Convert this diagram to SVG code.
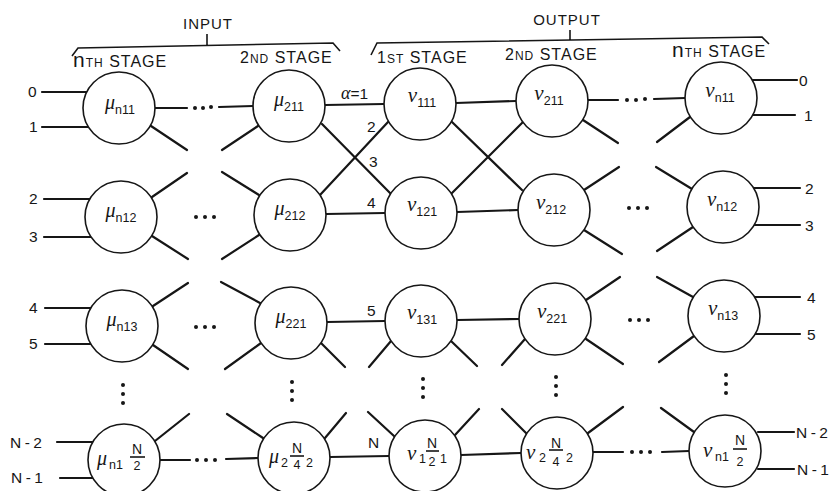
<svg xmlns="http://www.w3.org/2000/svg" width="837" height="491" viewBox="0 0 837 491">
<style>
.c{fill:#fff;stroke:#161616;stroke-width:1.6}
.l{stroke:#161616;stroke-width:2.2;fill:none;stroke-linecap:round}
.b{stroke:#161616;stroke-width:1.6;fill:none}
.d{fill:#161616}
text{font-family:"Liberation Sans","DejaVu Sans",sans-serif;fill:#161616}
.g{font-family:"Liberation Serif","DejaVu Serif",serif;font-style:italic;font-size:20px}
.v{font-family:"Liberation Serif","DejaVu Serif",serif;font-style:italic;font-size:21px}
.s{font-size:12.5px}
.p{font-size:15.5px}
.nn{font-size:15.5px;letter-spacing:3.5px}
.h{font-size:16px;letter-spacing:1px}
.sc{font-size:12px}
.bn{font-size:21px}
.fn{font-size:14px}
.fd{font-size:12.5px}
</style>

<g id="brackets">
<text x="208" y="29" text-anchor="middle" class="h" style="font-size:15px">INPUT</text>
<path class="b" d="M72,56 L78,48 L333,43 L340,51 M207,34 V45"/>
<text x="567" y="25" text-anchor="middle" class="h" style="font-size:15px">OUTPUT</text>
<path class="b" d="M371,55 L377,43 L762,37 L769,44 M570,30 V40"/>
<text x="73" y="67" class="h"><tspan class="bn">n</tspan><tspan class="sc">TH</tspan> STAGE</text>
<text x="240" y="63" class="h">2<tspan class="sc">ND</tspan> STAGE</text>
<text x="377" y="63" class="h">1<tspan class="sc">ST</tspan> STAGE</text>
<text x="505" y="60" class="h">2<tspan class="sc">ND</tspan> STAGE</text>
<text x="672" y="57" class="h"><tspan class="bn">n</tspan><tspan class="sc">TH</tspan> STAGE</text>
</g>

<g id="connectors">
<!-- inputs -->
<path class="l" d="M42,92 H87 M42,127 H88 M44,199 H90 M44,237 H91 M45,308 H91 M45,344 H91 M57,442 H93 M60,478 H93"/>
<!-- outputs -->
<path class="l" d="M752,80 H797 M753,115 H795 M754,188 H800 M754,225 H800 M755,297 H800 M755,334 H800 M758,432 H794 M758,469 H794"/>
<!-- horizontals -->
<path class="l" d="M155,108 L187,108 M219,107 L253,106 M325,105 L384,104 M456,103 L516,101 M588,100 L618,100 M654,99 L685,98"/>
<path class="l" d="M326,214 L385,213 M457,212 L518,210"/>
<path class="l" d="M327,322 L385,321 M457,320 L519,319"/>
<path class="l" d="M160,460 L190,460 M226,459 L258,458 M330,457 L389,456 M461,455 L521,453 M593,452 L623,452 M662,452 L689,451"/>
<!-- crossings -->
<path class="l" d="M322,124 L390,193 M388,122 L320,195 M452,122 L522,190 M452,193 L523,122"/>
<!-- stubs -->
<path class="l" d="M151,126 L187,150 M258,126 L222,150"/>
<path class="l" d="M152,197 L187,173 M152,236 L188,259 M259,195 L222,172 M259,235 L222,259"/>
<path class="l" d="M153,306 L188,283 M153,345 L188,369 M260,303 L221,282 M261,343 L225,369"/>
<path class="l" d="M321,343 L345,367 M391,341 L369,367 M451,341 L477,366 M525,339 L502,365"/>
<path class="l" d="M586,300 L620,277 M586,339 L623,364"/>
<path class="l" d="M155,441 L189,414 M263,438 L227,414 M325,438 L346,413 M394,436 L368,412 M455,435 L479,409 M526,433 L502,409 M588,433 L623,407 M694,432 L661,408"/>
<path class="l" d="M583,120 L618,143 M690,117 L657,142"/>
<path class="l" d="M584,190 L619,167 M584,230 L622,254 M692,189 L656,167 M693,227 L657,251"/>
<path class="l" d="M693,297 L657,277 M694,336 L659,362"/>
<!-- horizontal ellipses -->
<g class="d">
<circle cx="195" cy="108" r="2"/><circle cx="203" cy="108" r="2"/><circle cx="211" cy="107" r="2"/>
<circle cx="627" cy="100" r="2"/><circle cx="636" cy="100" r="2"/><circle cx="645" cy="99" r="2"/>
<circle cx="196" cy="217" r="2"/><circle cx="205" cy="217" r="2"/><circle cx="214" cy="217" r="2"/>
<circle cx="629" cy="208" r="2"/><circle cx="638" cy="208" r="2"/><circle cx="647" cy="208" r="2"/>
<circle cx="196" cy="327" r="2"/><circle cx="205" cy="327" r="2"/><circle cx="214" cy="327" r="2"/>
<circle cx="630" cy="320" r="2"/><circle cx="639" cy="320" r="2"/><circle cx="648" cy="320" r="2"/>
<circle cx="197" cy="460" r="2"/><circle cx="206" cy="460" r="2"/><circle cx="215" cy="460" r="2"/>
<circle cx="632" cy="452" r="2"/><circle cx="641" cy="452" r="2"/><circle cx="650" cy="452" r="2"/>
<!-- vertical ellipses -->
<circle cx="123" cy="385" r="2"/><circle cx="123" cy="394" r="2"/><circle cx="123" cy="403" r="2"/>
<circle cx="292" cy="382" r="2"/><circle cx="292" cy="391" r="2"/><circle cx="292" cy="400" r="2"/>
<circle cx="423" cy="379" r="2"/><circle cx="423" cy="388" r="2"/><circle cx="423" cy="397" r="2"/>
<circle cx="556" cy="377" r="2"/><circle cx="556" cy="386" r="2"/><circle cx="556" cy="395" r="2"/>
<circle cx="726" cy="375" r="2"/><circle cx="726" cy="384" r="2"/><circle cx="726" cy="393" r="2"/>
</g>
<!-- port labels -->
<text class="p" x="28" y="97">0</text>
<text class="p" x="29" y="132">1</text>
<text class="p" x="29" y="204">2</text>
<text class="p" x="29" y="242">3</text>
<text class="p" x="29" y="313">4</text>
<text class="p" x="29" y="349">5</text>
<text class="nn" x="10" y="448">N-2</text>
<text class="nn" x="11" y="483">N-1</text>
<text class="p" x="799" y="86">0</text>
<text class="p" x="804" y="121">1</text>
<text class="p" x="805" y="194">2</text>
<text class="p" x="805" y="231">3</text>
<text class="p" x="807" y="303">4</text>
<text class="p" x="807" y="340">5</text>
<text class="nn" x="796" y="438">N-2</text>
<text class="nn" x="797" y="475">N-1</text>
<!-- link labels -->
<text class="p" x="341" y="99"><tspan class="g" style="font-size:18px">α</tspan>=1</text>
<text class="p" x="367" y="132">2</text>
<text class="p" x="369" y="167">3</text>
<text class="p" x="367" y="208">4</text>
<text class="p" x="367" y="316">5</text>
<text class="p" x="368" y="448">N</text>
</g>

<g id="mu_n11"><circle class="c" cx="119" cy="108" r="36"/><text x="120" y="109" text-anchor="middle"><tspan class="g">μ</tspan><tspan class="s" dy="5">n11</tspan></text></g>
<g id="mu_n12"><circle class="c" cx="121" cy="217" r="36"/><text x="121" y="217" text-anchor="middle"><tspan class="g">μ</tspan><tspan class="s" dy="5">n12</tspan></text></g>
<g id="mu_n13"><circle class="c" cx="122" cy="326" r="36"/><text x="122" y="326" text-anchor="middle"><tspan class="g">μ</tspan><tspan class="s" dy="5">n13</tspan></text></g>
<g id="mu_n1N2"><circle class="c" cx="124" cy="460" r="36"/>
<text class="g" x="97" y="465">μ</text><text class="s" x="109" y="469">n1</text>
<text class="fn" x="137" y="454" text-anchor="middle">N</text><path class="b" d="M130,457 H145"/><text class="fd" x="137" y="470" text-anchor="middle">2</text></g>

<g id="mu_211"><circle class="c" cx="289" cy="106" r="36"/><text x="289" y="106" text-anchor="middle"><tspan class="g">μ</tspan><tspan class="s" dy="5">211</tspan></text></g>
<g id="mu_212"><circle class="c" cx="290" cy="215" r="36"/><text x="290" y="215" text-anchor="middle"><tspan class="g">μ</tspan><tspan class="s" dy="5">212</tspan></text></g>
<g id="mu_221"><circle class="c" cx="291" cy="323" r="36"/><text x="291" y="323" text-anchor="middle"><tspan class="g">μ</tspan><tspan class="s" dy="5">221</tspan></text></g>
<g id="mu_2N42"><circle class="c" cx="294" cy="458" r="36"/>
<text class="g" x="269" y="463">μ</text><text class="s" x="281" y="467">2</text>
<text class="fn" x="297" y="453" text-anchor="middle">N</text><path class="b" d="M290,456 H304"/><text class="fd" x="297" y="469" text-anchor="middle">4</text>
<text class="s" x="306" y="467">2</text></g>

<g id="nu_111"><circle class="c" cx="420" cy="104" r="36"/><text x="422" y="102" text-anchor="middle"><tspan class="v">ν</tspan><tspan class="s" dy="5">111</tspan></text></g>
<g id="nu_121"><circle class="c" cx="421" cy="213" r="36"/><text x="422" y="211" text-anchor="middle"><tspan class="v">ν</tspan><tspan class="s" dy="5">121</tspan></text></g>
<g id="nu_131"><circle class="c" cx="421" cy="321" r="36"/><text x="422" y="319" text-anchor="middle"><tspan class="v">ν</tspan><tspan class="s" dy="5">131</tspan></text></g>
<g id="nu_1N21"><circle class="c" cx="425" cy="456" r="36"/>
<text class="v" x="407" y="460">ν</text><text class="s" x="419" y="463">1</text>
<text class="fn" x="432" y="448" text-anchor="middle">N</text><path class="b" d="M426,451 H439"/><text class="fd" x="432" y="466" text-anchor="middle">2</text>
<text class="s" x="440" y="463">1</text></g>

<g id="nu_211"><circle class="c" cx="552" cy="101" r="36"/><text x="549" y="100" text-anchor="middle"><tspan class="v">ν</tspan><tspan class="s" dy="5">211</tspan></text></g>
<g id="nu_212"><circle class="c" cx="554" cy="210" r="36"/><text x="551" y="209" text-anchor="middle"><tspan class="v">ν</tspan><tspan class="s" dy="5">212</tspan></text></g>
<g id="nu_221"><circle class="c" cx="555" cy="319" r="36"/><text x="552" y="318" text-anchor="middle"><tspan class="v">ν</tspan><tspan class="s" dy="5">221</tspan></text></g>
<g id="nu_2N42"><circle class="c" cx="557" cy="453" r="36"/>
<text class="v" x="526" y="459">ν</text><text class="s" x="539" y="462">2</text>
<text class="fn" x="556" y="448" text-anchor="middle">N</text><path class="b" d="M549,450 H563"/><text class="fd" x="556" y="466" text-anchor="middle">4</text>
<text class="s" x="566" y="462">2</text></g>

<g id="nu_n11"><circle class="c" cx="721" cy="98" r="36"/><text x="720" y="97" text-anchor="middle"><tspan class="v">ν</tspan><tspan class="s" dy="5">n11</tspan></text></g>
<g id="nu_n12"><circle class="c" cx="723" cy="207" r="36"/><text x="722" y="206" text-anchor="middle"><tspan class="v">ν</tspan><tspan class="s" dy="5">n12</tspan></text></g>
<g id="nu_n13"><circle class="c" cx="724" cy="316" r="36"/><text x="723" y="315" text-anchor="middle"><tspan class="v">ν</tspan><tspan class="s" dy="5">n13</tspan></text></g>
<g id="nu_n1N2"><circle class="c" cx="725" cy="451" r="36"/>
<text class="v" x="703" y="457">ν</text><text class="s" x="715" y="461">n1</text>
<text class="fn" x="740" y="445" text-anchor="middle">N</text><path class="b" d="M733,449 H747"/><text class="fd" x="740" y="466" text-anchor="middle">2</text></g>
</svg>
